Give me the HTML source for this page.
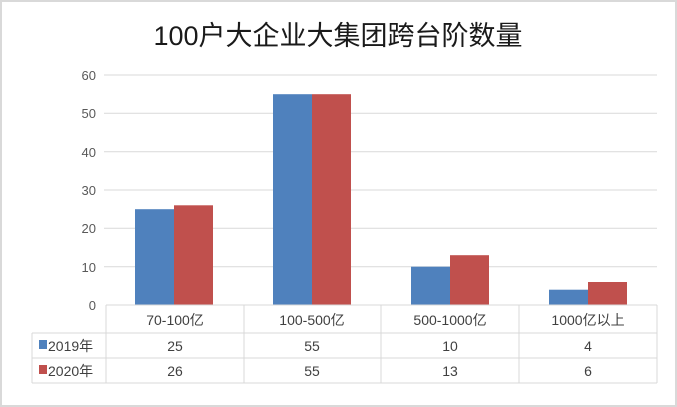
<!DOCTYPE html>
<html><head><meta charset="utf-8"><style>
body{margin:0;background:#fff}
svg{display:block}
text{font-family:"Liberation Sans","Noto Sans CJK SC",sans-serif}
</style></head><body>
<svg width="677" height="407" viewBox="0 0 677 407">
<rect x="0" y="0" width="677" height="407" fill="#fff"/>
<rect x="1" y="1" width="675" height="405" fill="none" stroke="#d9d9d9" stroke-width="2"/>
<text x="338" y="45" font-size="27" text-anchor="middle" fill="#1a1a1a">100户大企业大集团跨台阶数量</text>
<g stroke="#d9d9d9" stroke-width="1">
<line x1="104" y1="75" x2="657" y2="75"/>
<line x1="104" y1="113.3" x2="657" y2="113.3"/>
<line x1="104" y1="151.7" x2="657" y2="151.7"/>
<line x1="104" y1="190" x2="657" y2="190"/>
<line x1="104" y1="228.3" x2="657" y2="228.3"/>
<line x1="104" y1="266.7" x2="657" y2="266.7"/>
</g>
<g font-size="13" fill="#595959" text-anchor="end">
<text x="96" y="80">60</text><text x="96" y="118">50</text><text x="96" y="157">40</text>
<text x="96" y="195">30</text><text x="96" y="233">20</text><text x="96" y="272">10</text><text x="96" y="310">0</text>
</g>
<g fill="#4f81bd">
<rect x="135" y="209.2" width="39" height="95.8"/>
<rect x="273" y="94.2" width="39" height="210.8"/>
<rect x="411" y="266.7" width="39" height="38.3"/>
<rect x="549" y="289.7" width="39" height="15.3"/>
</g>
<g fill="#c0504d">
<rect x="174" y="205.3" width="39" height="99.7"/>
<rect x="312" y="94.2" width="39" height="210.8"/>
<rect x="450" y="255.2" width="39" height="49.8"/>
<rect x="588" y="282" width="39" height="23"/>
</g>
<g stroke="#d9d9d9" stroke-width="1" fill="none">
<line x1="106" y1="305" x2="657" y2="305"/>
<line x1="32" y1="333" x2="657" y2="333"/>
<line x1="32" y1="358" x2="657" y2="358"/>
<line x1="32" y1="383" x2="657" y2="383"/>
<line x1="32" y1="333" x2="32" y2="383"/>
<line x1="106" y1="305" x2="106" y2="383"/>
<line x1="244" y1="305" x2="244" y2="383"/>
<line x1="381" y1="305" x2="381" y2="383"/>
<line x1="519" y1="305" x2="519" y2="383"/>
<line x1="657" y1="305" x2="657" y2="383"/>
</g>
<g font-size="14" fill="#404040" text-anchor="middle">
<text x="175" y="325">70-100亿</text><text x="312" y="325">100-500亿</text>
<text x="450" y="325">500-1000亿</text><text x="588" y="325">1000亿以上</text>
<text x="175" y="351">25</text><text x="312" y="351">55</text><text x="450" y="351">10</text><text x="588" y="351">4</text>
<text x="175" y="376">26</text><text x="312" y="376">55</text><text x="450" y="376">13</text><text x="588" y="376">6</text>
</g>
<rect x="39" y="340" width="8" height="9" fill="#4f81bd"/>
<rect x="39" y="365" width="8" height="9" fill="#c0504d"/>
<g font-size="14" fill="#404040">
<text x="48" y="351">2019年</text><text x="48" y="376">2020年</text>
</g>
</svg>
</body></html>
